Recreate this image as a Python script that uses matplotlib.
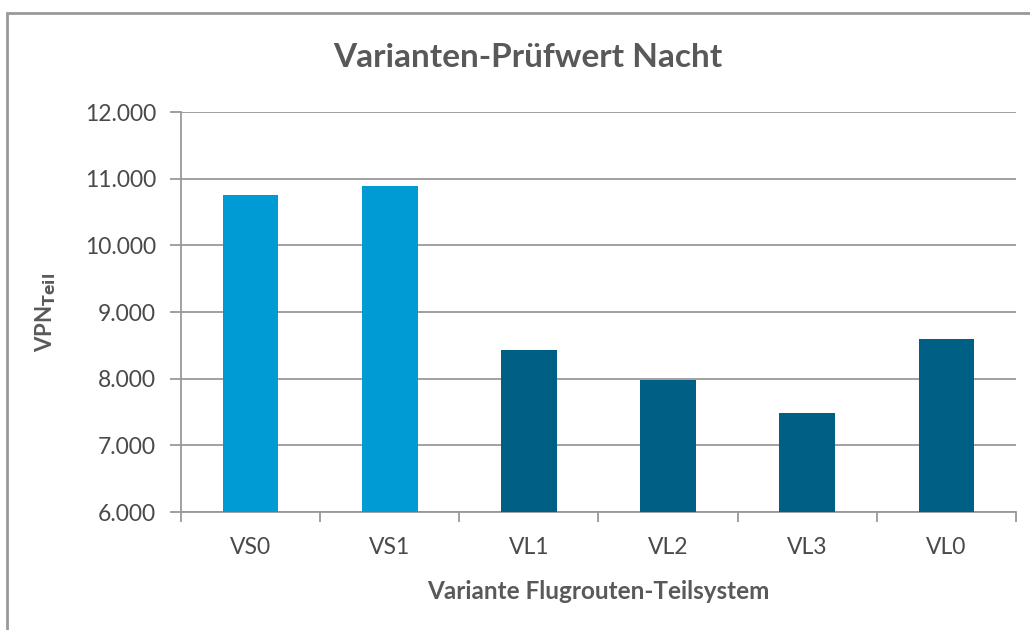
import matplotlib
matplotlib.use("Agg")
import matplotlib.pyplot as plt
from matplotlib.patches import Rectangle
from matplotlib.ticker import FuncFormatter, MultipleLocator

# Prüfwerte je Variante
varianten = ["VS0", "VS1", "VL1", "VL2", "VL3", "VL0"]
werte = [10760, 10885, 8424, 7975, 7480, 8590]
farben = ["#009BD5", "#009BD5", "#005F85", "#005F85", "#005F85", "#005F85"]

plt.rcParams["font.family"] = ["Lato", "DejaVu Sans"]
text_col = "#595959"
tick_col = "#4a4a4a"
grid_col = "#999999"

fig = plt.figure(figsize=(10.3, 6.3), dpi=100)
ax = fig.add_axes([0.1757, 0.1873, 0.8107, 0.6349])

x = range(len(varianten))
ax.bar(x, werte, width=0.4, color=farben, zorder=3)

ax.set_ylim(6000, 12000)
ax.set_xlim(-0.5, len(varianten) - 0.5)
ax.yaxis.set_major_locator(MultipleLocator(1000))
ax.yaxis.set_major_formatter(FuncFormatter(lambda v, _: f"{v:,.0f}".replace(",", ".")))
ax.grid(axis="y", color=grid_col, linewidth=1.3, zorder=0)

ax.set_xticks([i - 0.5 for i in range(len(varianten) + 1)], minor=False)
ax.set_xticklabels([])
ax.set_xticks(list(x), minor=True)
ax.set_xticklabels(varianten, minor=True)
ax.tick_params(axis="x", which="major", direction="out", length=7, width=1.3, color=grid_col)
ax.tick_params(axis="x", which="minor", length=0, pad=18, labelsize=16.5, labelcolor=tick_col)
ax.tick_params(axis="y", direction="out", length=8, width=1.3, color=grid_col,
               labelsize=16.5, labelcolor=tick_col, pad=10)

for s in ["top", "right"]:
    ax.spines[s].set_visible(False)
for s in ["left", "bottom"]:
    ax.spines[s].set_color(grid_col)
    ax.spines[s].set_linewidth(1.3)

ax.set_xlabel("Variante Flugrouten-Teilsystem", fontsize=17.5, fontweight="bold",
              color=text_col, labelpad=16)
ax.set_ylabel(r"VPN$_{\mathbf{Teil}}$", fontsize=16, fontweight="bold", color=text_col,
              labelpad=19)
fig.text(0.512, 0.909, "Varianten-Prüfwert Nacht", ha="center", va="center",
         fontsize=24, fontweight="bold", color=text_col)

# Rahmen um das Diagramm
fig.patches.append(Rectangle((7 / 1030, -0.1), 1.2, 0.1 + 1 - 13 / 630,
                             transform=fig.transFigure, fill=False,
                             edgecolor=grid_col, linewidth=2))

fig.savefig("out.png", dpi=100, facecolor="white")
